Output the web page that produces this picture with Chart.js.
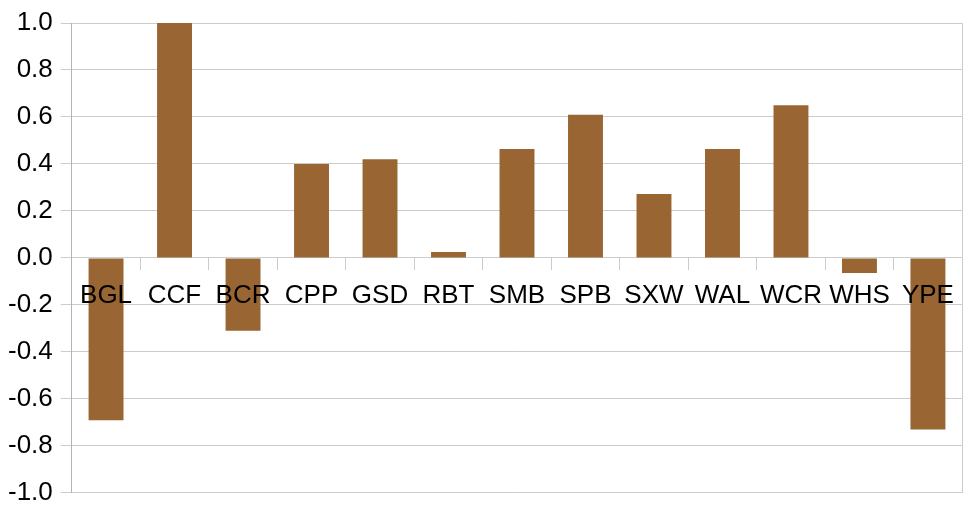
<!DOCTYPE html>
<html>
<head>
<meta charset="utf-8">
<script src="https://cdn.jsdelivr.net/npm/chart.js@4"></script>
<style>
  html, body { margin: 0; padding: 0; background: #fff; }
  #wrap { width: 964px; height: 508px; }
</style>
</head>
<body>
<div id="wrap"><canvas id="chart"></canvas></div>
<script>
// categories and values
const categories = ['BGL', 'CCF', 'BCR', 'CPP', 'GSD', 'RBT', 'SMB', 'SPB', 'SXW', 'WAL', 'WCR', 'WHS', 'YPE'];
const values = [-0.69, 1.0, -0.31, 0.40, 0.42, 0.026, 0.464, 0.61, 0.272, 0.464, 0.65, -0.064, -0.73];
const yTicks = [-1.0, -0.8, -0.6, -0.4, -0.2, 0.0, 0.2, 0.4, 0.6, 0.8, 1.0];

const font = { family: 'Liberation Sans, Arial, sans-serif', size: 26 };

const ctx = document.getElementById('chart').getContext('2d');
const chart = new Chart(ctx, {
   type: 'bar',
   data: {
      labels: categories,
      datasets: [{
         data: values,
         backgroundColor: '#996633',
         borderWidth: 0,
         categoryPercentage: 1,
         barPercentage: 0.51,
      }]
   },
   options: {
      responsive: true,
      maintainAspectRatio: false,
      animation: false,
      layout: {
         padding: { left: 0, right: 1, top: 23, bottom: 0 }
      },
      plugins: {
         legend: { display: false },
         tooltip: { enabled: false },
      },
      scales: {
         x: {
            position: { y: 0 },
            grid: {
               offset: true,
               drawOnChartArea: false,
               drawTicks: true,
               tickLength: 12,
               color: '#cccccc',
            },
            border: { display: false },
            ticks: {
               z: 1, // labels sit on top of the bars
               color: '#000',
               font: font,
               padding: 10,
               maxRotation: 0,
               autoSkip: false,
            }
         },
         y: {
            min: yTicks[0],
            max: yTicks[yTicks.length - 1],
            afterBuildTicks: (scale) => { scale.ticks = yTicks.map(v => ({ value: v })); },
            grid: {
               color: '#cccccc',
               tickLength: 11,
            },
            border: { color: '#b3b3b3' },
            ticks: {
               color: '#000',
               font: { family: font.family, size: font.size, lineHeight: 0.54 },
               padding: 8,
               callback: (v) => Number(v).toFixed(1),
            }
         },
         // right frame line
         y2: {
            position: 'right',
            min: -1,
            max: 1,
            grid: { drawOnChartArea: false, drawTicks: false },
            border: { color: '#cccccc' },
            ticks: { display: false },
         }
      }
   }
});
</script>
</body>
</html>
